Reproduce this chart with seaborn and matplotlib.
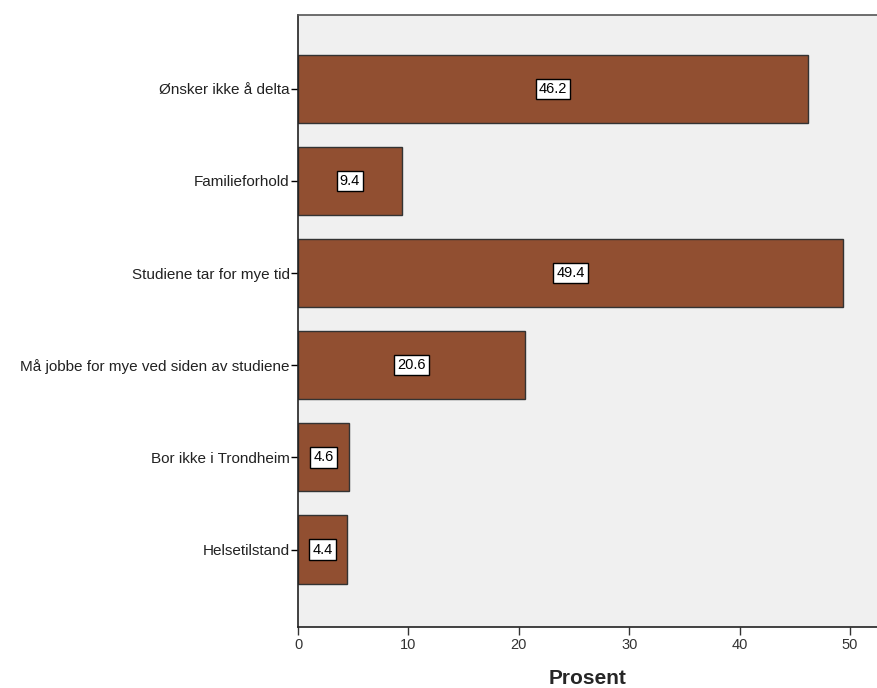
import matplotlib
matplotlib.use("Agg")
import matplotlib.pyplot as plt
import seaborn as sns
import pandas as pd

# DATA

categories = [
    "Ønsker ikke å delta",
    "Familieforhold",
    "Studiene tar for mye tid",
    "Må jobbe for mye ved siden av studiene",
    "Bor ikke i Trondheim",
    "Helsetilstand",
]
percent = [46.2, 9.4, 49.4, 20.6, 4.6, 4.4]
x_ticks = [0, 10, 20, 30, 40, 50]

df = pd.DataFrame({"Kategori": categories, "Prosent": percent})

sns.set_style("ticks")
plt.rcParams["font.family"] = ["Liberation Sans", "DejaVu Sans"]

fig = plt.figure(figsize=(8.77, 6.88), dpi=100)
ax = fig.add_axes([0.3398, 0.0887, 0.6602, 0.8895])
ax.set_facecolor("#F0F0F0")

sns.barplot(data=df, x="Prosent", y="Kategori", orient="h",
            color="#914F31", saturation=1, width=0.74,
            edgecolor="#333333", linewidth=1, ax=ax)

# value labels in boxes at bar centre
for i, v in enumerate(percent):
    ax.text(v / 2, i, f"{v:.1f}", ha="center", va="center", fontsize=10.5,
            color="black",
            bbox=dict(boxstyle="square,pad=0.22", facecolor="white",
                      edgecolor="black", linewidth=1))

ax.set_xlim(0, 52.45)
ax.set_ylim(5.84, -0.80)
ax.set_xticks(x_ticks)
ax.set_xticklabels([str(t) for t in x_ticks], fontsize=10.5, color="#222222")
ax.tick_params(axis="y", labelsize=11, length=5, width=1, colors="black",
               labelcolor="#222222", pad=1)
ax.tick_params(axis="x", length=6, width=1, colors="#333333", pad=2)
ax.set_ylabel("")
ax.set_xlabel("Prosent", fontsize=15, fontweight="bold", labelpad=12)

for side in ["left", "bottom"]:
    ax.spines[side].set_color("#222222")
    ax.spines[side].set_linewidth(1.2)
ax.spines["top"].set_visible(True)
ax.spines["top"].set_color("#555555")
ax.spines["top"].set_linewidth(1.2)
ax.spines["right"].set_visible(False)

fig.savefig("out.png", dpi=100, facecolor="white")
